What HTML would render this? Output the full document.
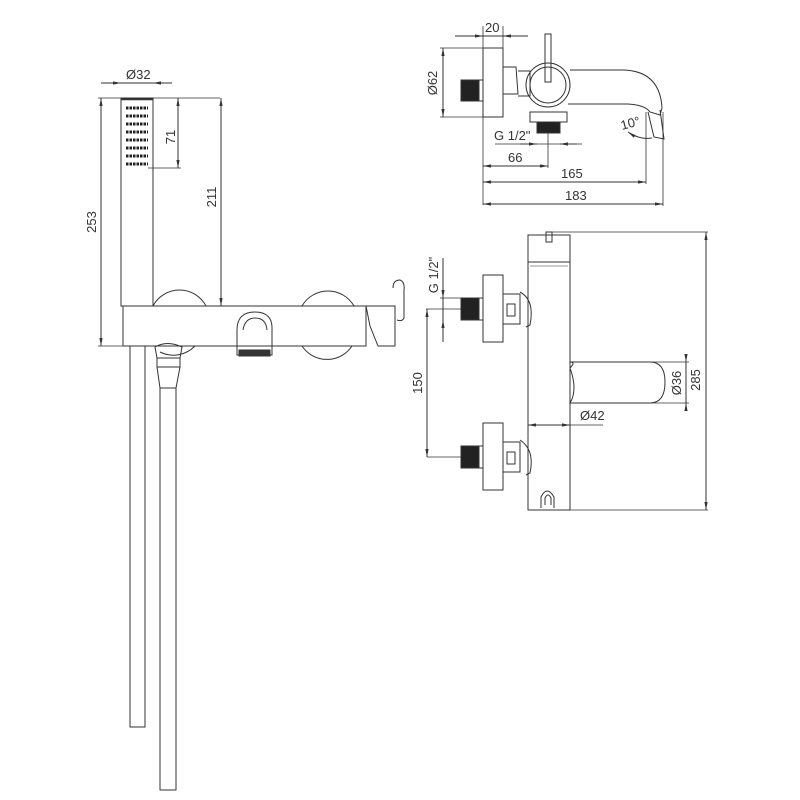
<!DOCTYPE html>
<html><head><style>body{margin:0;background:#fff}svg{display:block}text{font-family:"Liberation Sans",sans-serif;font-size:13px;fill:#333}</style></head><body>
<svg width="800" height="800" viewBox="0 0 800 800" xmlns="http://www.w3.org/2000/svg">
<defs><marker id="a" viewBox="0 0 10 10" refX="10" refY="5" markerWidth="8" markerHeight="8" orient="auto-start-reverse"><path d="M0,3L10,5L0,7z" fill="#333"/></marker></defs>
<g fill="none" stroke="#333" stroke-width="1">
<rect x="121" y="98" width="32" height="208" fill="#fff"/>
<line x1="121" y1="99" x2="153" y2="99" stroke-width="2.5"/>
<g stroke="#222" stroke-width="3" stroke-dasharray="2.5 1">
<line x1="126" y1="108" x2="148" y2="108"/><line x1="126" y1="116" x2="148" y2="116"/><line x1="126" y1="124" x2="148" y2="124"/><line x1="126" y1="132" x2="148" y2="132"/><line x1="126" y1="140" x2="148" y2="140"/><line x1="126" y1="148" x2="148" y2="148"/><line x1="126" y1="156" x2="148" y2="156"/><line x1="126" y1="164" x2="148" y2="164"/></g>
<path d="M153,306 A30,30 0 0 1 206,306"/><path d="M302,306 A30,30 0 0 1 354,306"/>
<path d="M195,346 A30,30 0 0 1 160,352"/><path d="M302,346 A30,30 0 0 0 352,346"/>
<rect x="123" y="306" width="243" height="40"/>
<path d="M366,306 L395,306 L395,346 L378,346 L370,326 Z"/>
<path d="M393,288 Q393,280 400,280 Q405,282 404,290 L404,318 Q402,322 397,320"/>
<path d="M237,330 Q237,312 255,312 Q273,312 272,330 L272,355 L237,355 Z"/><path d="M243,330 Q245,318 255,318 Q266,318 267,330"/>
<rect x="239" y="350" width="31" height="6" fill="#333"/>
<rect x="130" y="346" width="15" height="381"/>
<rect x="160" y="388" width="16" height="402"/>
<path d="M155,347 Q167,340 182,347 L180,358 L157,358 Z"/><rect x="157" y="358" width="23" height="9"/><path d="M157,367 L160,388 L176,388 L180,367"/>
<line x1="101" y1="83" x2="121" y2="83" marker-end="url(#a)"/><line x1="172" y1="83" x2="153" y2="83" marker-end="url(#a)"/><line x1="121" y1="83" x2="153" y2="83"/>
<line x1="98" y1="98" x2="220" y2="98" stroke-width=".8"/><line x1="98" y1="346" x2="123" y2="346" stroke-width=".8"/>
<line x1="101" y1="98" x2="101" y2="346" marker-start="url(#a)" marker-end="url(#a)"/>
<line x1="148" y1="168" x2="181" y2="168" stroke-width=".8"/><line x1="178" y1="98" x2="178" y2="168" marker-start="url(#a)" marker-end="url(#a)"/>
<line x1="221" y1="98" x2="221" y2="306" marker-start="url(#a)" marker-end="url(#a)"/>
<rect x="483" y="48" width="20" height="69"/>
<rect x="461" y="80" width="18" height="21" fill="#222"/><rect x="479" y="80" width="4" height="21"/>
<path d="M503,67 L516,67 L518,94 L503,94"/><path d="M518,71 L530,71 L530,96 L518,96"/>
<circle cx="548" cy="85" r="22"/><circle cx="548" cy="85" r="18"/>
<rect x="545" y="34" width="6" height="48"/>
<path d="M570,70 L625,70 Q660,72 662,108 L660,115 L650,112 Q645,105 628,104 L568,104"/>
<path d="M660,110 L664,139 L654,137 L648,112"/>
<rect x="530" y="112" width="37" height="10"/><rect x="537" y="122" width="23" height="11" fill="#222"/>
<line x1="455" y1="36" x2="483" y2="36" marker-end="url(#a)"/><line x1="528" y1="36" x2="503" y2="36" marker-end="url(#a)"/><line x1="483" y1="36" x2="503" y2="36"/>
<line x1="483" y1="26" x2="483" y2="205" stroke-width=".8"/><line x1="503" y1="26" x2="503" y2="48" stroke-width=".8"/>
<line x1="443" y1="48" x2="443" y2="117" marker-start="url(#a)" marker-end="url(#a)"/><line x1="440" y1="48" x2="483" y2="48" stroke-width=".8"/><line x1="440" y1="117" x2="483" y2="117" stroke-width=".8"/>
<line x1="495" y1="144" x2="582" y2="144" stroke-width=".8"/><line x1="520" y1="144" x2="537" y2="144" marker-end="url(#a)"/><line x1="577" y1="144" x2="560" y2="144" marker-end="url(#a)"/>
<line x1="548" y1="133" x2="548" y2="168" stroke-width=".8"/>
<line x1="483" y1="166" x2="548" y2="166" marker-start="url(#a)" marker-end="url(#a)"/>
<line x1="646" y1="112" x2="646" y2="184" stroke-width=".8"/><line x1="483" y1="182" x2="646" y2="182" marker-start="url(#a)" marker-end="url(#a)"/>
<line x1="663" y1="112" x2="663" y2="206" stroke-width=".8"/><line x1="483" y1="204" x2="663" y2="204" marker-start="url(#a)" marker-end="url(#a)"/>
<path d="M628,132 Q640,140 652,138" marker-start="url(#a)"/>
<rect x="528" y="235" width="42" height="275"/><line x1="528" y1="262" x2="570" y2="262"/><line x1="530" y1="266" x2="568" y2="266" stroke-width=".6"/>
<rect x="546" y="232" width="6" height="10"/>
<line x1="552" y1="232" x2="708" y2="232" stroke-width=".8"/><line x1="570" y1="510" x2="708" y2="510" stroke-width=".8"/>
<line x1="706" y1="232" x2="706" y2="510" marker-start="url(#a)" marker-end="url(#a)"/>
<rect x="483" y="275" width="20" height="67"/><rect x="483" y="423" width="20" height="67"/>
<rect x="461" y="298" width="18" height="22" fill="#222"/><rect x="479" y="298" width="4" height="22"/>
<rect x="461" y="446" width="18" height="22" fill="#222"/><rect x="479" y="446" width="4" height="22"/>
<rect x="503" y="294" width="17" height="30"/><rect x="507" y="304" width="8" height="12"/>
<rect x="503" y="442" width="17" height="30"/><rect x="507" y="452" width="8" height="12"/>
<path d="M520,292 Q535,300 530,325 L526,327 M520,440 Q535,450 530,473 L526,475"/>
<path d="M570,368 Q576,362 570,362 L650,362 Q665,362 665,382 Q665,403 650,403 L570,403 Q578,390 570,368"/>
<path d="M541,508 L541,497 Q547,485 554,497 L554,508 M545,505 L545,498 Q548,492 551,498 L551,505"/>
<line x1="443" y1="258" x2="443" y2="298" marker-end="url(#a)"/><line x1="443" y1="342" x2="443" y2="320" marker-end="url(#a)"/><line x1="443" y1="298" x2="443" y2="320"/>
<line x1="440" y1="298" x2="461" y2="298" stroke-width=".8"/><line x1="426" y1="309" x2="461" y2="309" stroke-width=".8"/>
<line x1="427" y1="309" x2="427" y2="457" marker-start="url(#a)" marker-end="url(#a)"/><line x1="427" y1="457" x2="461" y2="457" stroke-width=".8"/>
<line x1="650" y1="362" x2="689" y2="362" stroke-width=".8"/><line x1="650" y1="403" x2="689" y2="403" stroke-width=".8"/>
<line x1="686" y1="355" x2="686" y2="362" marker-end="url(#a)"/><line x1="686" y1="410" x2="686" y2="403" marker-end="url(#a)"/><line x1="686" y1="362" x2="686" y2="403"/>
<line x1="528" y1="425" x2="570" y2="425" marker-start="url(#a)" marker-end="url(#a)"/><line x1="570" y1="425" x2="603" y2="425" stroke-width=".8"/>
</g>
<text x="126" y="79">Ø32</text>
<text transform="translate(96,222) rotate(-90)" text-anchor="middle">253</text>
<text transform="translate(175,137) rotate(-90)" text-anchor="middle">71</text>
<text transform="translate(216,197) rotate(-90)" text-anchor="middle">211</text>
<text x="485" y="32">20</text>
<text transform="translate(437,83) rotate(-90)" text-anchor="middle">Ø62</text>
<text x="494" y="140">G 1/2"</text>
<text x="508" y="162">66</text>
<text x="561" y="178">165</text>
<text x="565" y="200">183</text>
<text transform="translate(622,130) rotate(-15)">10°</text>
<text transform="translate(438,275) rotate(-90)" text-anchor="middle">G 1/2"</text>
<text transform="translate(422,383) rotate(-90)" text-anchor="middle">150</text>
<text transform="translate(681,383) rotate(-90)" text-anchor="middle">Ø36</text>
<text transform="translate(700,380) rotate(-90)" text-anchor="middle">285</text>
<text x="580" y="420">Ø42</text>
</svg>
</body></html>
